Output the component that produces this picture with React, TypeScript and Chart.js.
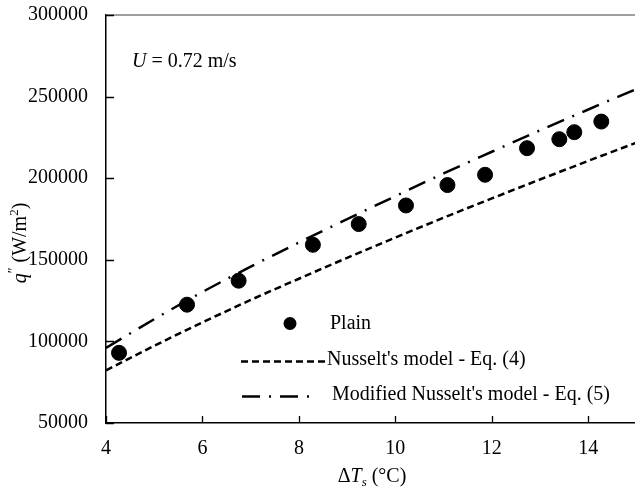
import React, { useEffect, useRef } from 'react';
import { Chart, registerables } from 'chart.js';

Chart.register(...registerables);

// Measured data (ΔTs in °C, q'' in W/m²)
const plainDT = [4.27, 5.68, 6.75, 8.29, 9.24, 10.22, 11.08, 11.86, 12.73, 13.4, 13.71, 14.27];
const plainQ = [93000, 122500, 137200, 159200, 171900, 183300, 195800, 202100, 218400, 223900, 228200, 234700];

// Model curves
const modelDT = [4, 5, 6, 7, 8, 9, 10, 11, 12, 13, 14, 15];
const nusseltQ = [82300, 97300, 111600, 125400, 138400, 151200, 163600, 175800, 187600, 199200, 210600, 221800];
const modifiedQ = [96000, 113600, 130300, 145800, 160600, 174900, 189000, 202900, 216200, 229300, 242100, 254700];

const xTicks = [4, 6, 8, 10, 12, 14];
const yTicks = [50000, 100000, 150000, 200000, 250000, 300000];

const FONT = "'Liberation Serif', 'Times New Roman', serif";

const overlay = {
  id: 'overlay',
  afterDraw(chart: any) {
    const ctx: CanvasRenderingContext2D = chart.ctx;
    const { left, right, top, bottom } = chart.chartArea;
    const xs = chart.scales.x;
    const ys = chart.scales.y;
    ctx.save();

    // top border of plot area
    ctx.strokeStyle = '#7f7f7f';
    ctx.lineWidth = 1.5;
    ctx.beginPath();
    ctx.moveTo(left, top);
    ctx.lineTo(right + 20, top);
    ctx.stroke();

    // inward tick marks
    ctx.strokeStyle = '#000';
    ctx.lineWidth = 1.3;
    ctx.beginPath();
    for (const v of xTicks) {
      const px = Math.round(xs.getPixelForValue(v)) + 0.5;
      ctx.moveTo(px, bottom);
      ctx.lineTo(px, bottom - 7);
    }
    for (const v of yTicks) {
      const py = Math.round(ys.getPixelForValue(v)) + 0.5;
      ctx.moveTo(left, py);
      ctx.lineTo(left + 8, py);
    }
    ctx.stroke();

    ctx.fillStyle = '#000';
    ctx.textBaseline = 'alphabetic';

    // annotation U = 0.72 m/s
    ctx.font = `italic 20px ${FONT}`;
    ctx.textAlign = 'left';
    ctx.fillText('U', 132, 67);
    const wU = ctx.measureText('U').width;
    ctx.font = `20px ${FONT}`;
    ctx.fillText(' = 0.72 m/s', 132 + wU, 67);

    // legend
    ctx.textBaseline = 'middle';
    ctx.beginPath();
    ctx.arc(290, 323.5, 6.5, 0, Math.PI * 2);
    ctx.fill();
    ctx.font = `20px ${FONT}`;
    ctx.fillText('Plain', 330, 324);

    ctx.lineWidth = 2.5;
    ctx.setLineDash([7, 4]);
    ctx.beginPath();
    ctx.moveTo(241, 361.5);
    ctx.lineTo(325, 361.5);
    ctx.stroke();
    ctx.fillText("Nusselt's model - Eq. (4)", 327, 360);

    ctx.setLineDash([18, 9, 2, 9]);
    ctx.beginPath();
    ctx.moveTo(242, 396.5);
    ctx.lineTo(313, 396.5);
    ctx.stroke();
    ctx.setLineDash([]);
    ctx.fillText("Modified Nusselt's model - Eq. (5)", 332, 395);

    // x axis title: ΔTs (°C)
    ctx.textBaseline = 'alphabetic';
    const xParts = [
      { t: 'Δ', f: `20px ${FONT}`, dy: 0 },
      { t: 'T', f: `italic 20px ${FONT}`, dy: 0 },
      { t: 's', f: `italic 13px ${FONT}`, dy: 4 },
      { t: ' (°C)', f: `20px ${FONT}`, dy: 0 },
    ];
    let total = 0;
    for (const p of xParts) { ctx.font = p.f; total += ctx.measureText(p.t).width; }
    let x0 = 372 - total / 2;
    for (const p of xParts) {
      ctx.font = p.f;
      ctx.fillText(p.t, x0, 482 + p.dy);
      x0 += ctx.measureText(p.t).width;
    }

    // y axis title: q'' (W/m²)
    ctx.translate(26, 243);
    ctx.rotate(-Math.PI / 2);
    const yParts = [
      { t: 'q', f: `italic 20px ${FONT}`, dy: 0 },
      { t: '″', f: `14px ${FONT}`, dy: -8 },
      { t: ' (W/m', f: `20px ${FONT}`, dy: 0 },
      { t: '2', f: `13px ${FONT}`, dy: -8 },
      { t: ')', f: `20px ${FONT}`, dy: 0 },
    ];
    total = 0;
    for (const p of yParts) { ctx.font = p.f; total += ctx.measureText(p.t).width; }
    let y0 = -total / 2;
    for (const p of yParts) {
      ctx.font = p.f;
      ctx.fillText(p.t, y0, p.dy);
      y0 += ctx.measureText(p.t).width;
    }

    ctx.restore();
  },
};

export default function App() {
  const ref = useRef<HTMLCanvasElement | null>(null);

  useEffect(() => {
    const canvas = ref.current;
    if (!canvas) return;
    const chart = new Chart(canvas, {
      type: 'scatter',
      data: {
        datasets: [
          {
            label: 'Plain',
            data: plainDT.map((x, i) => ({ x, y: plainQ[i] })),
            backgroundColor: '#000',
            borderColor: '#000',
            pointRadius: 7.5,
            pointHoverRadius: 7.5,
            showLine: false,
          },
          {
            label: "Nusselt's model - Eq. (4)",
            data: modelDT.map((x, i) => ({ x, y: nusseltQ[i] })),
            borderColor: '#000',
            backgroundColor: '#000',
            borderWidth: 2.5,
            borderDash: [7, 4],
            pointRadius: 0,
            showLine: true,
            tension: 0.4,
            cubicInterpolationMode: 'monotone',
          },
          {
            label: "Modified Nusselt's model - Eq. (5)",
            data: modelDT.map((x, i) => ({ x, y: modifiedQ[i] })),
            borderColor: '#000',
            backgroundColor: '#000',
            borderWidth: 2.5,
            borderDash: [18, 9, 2, 9],
            pointRadius: 0,
            showLine: true,
            tension: 0.4,
            cubicInterpolationMode: 'monotone',
          },
        ],
      },
      options: {
        responsive: false,
        animation: false,
        layout: { padding: { top: 15, right: 7, bottom: 0, left: 0 } },
        plugins: {
          legend: { display: false },
          tooltip: { enabled: false },
        },
        scales: {
          x: {
            type: 'linear',
            min: 4,
            max: 15,
            grid: { display: true, drawOnChartArea: false, drawTicks: false },
            border: { display: true, color: '#000', width: 1.5 },
            ticks: {
              stepSize: 2,
              includeBounds: false,
              color: '#000',
              padding: 14,
              maxRotation: 0,
              font: { family: FONT, size: 20 },
              callback: (v: any) => String(v),
            },
            afterFit(scale: any) {
              scale.height = 65;
              scale.paddingLeft = 0;
              scale.paddingRight = 0;
            },
          },
          y: {
            type: 'linear',
            min: 50000,
            max: 300000,
            grid: { display: true, drawOnChartArea: false, drawTicks: false },
            border: { display: true, color: '#000', width: 1.5 },
            ticks: {
              stepSize: 50000,
              color: '#000',
              padding: 18,
              font: { family: FONT, size: 20 },
              callback: (v: any) => String(v),
            },
            afterFit(scale: any) {
              scale.width = 106;
              scale.paddingTop = 0;
              scale.paddingBottom = 0;
            },
          },
        },
      },
      plugins: [overlay],
    } as any);
    return () => chart.destroy();
  }, []);

  return (
    <div style={{ position: 'fixed', left: 0, top: 0, width: 635, height: 488, overflow: 'hidden', background: '#fff' }}>
      <canvas ref={ref} width={645} height={488} style={{ width: 645, height: 488, display: 'block' }} />
    </div>
  );
}
